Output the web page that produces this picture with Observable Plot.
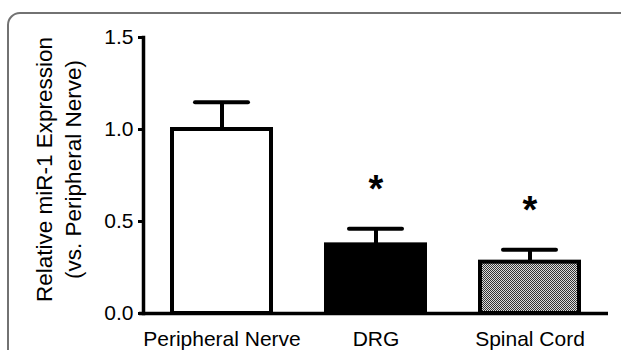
<!DOCTYPE html>
<html><head><meta charset="utf-8">
<script src="https://cdn.jsdelivr.net/npm/d3@7"></script>
<script src="https://cdn.jsdelivr.net/npm/@observablehq/plot@0.6"></script>
<style>
html,body{margin:0;padding:0;background:#fff;overflow:hidden;}
#wrap{position:relative;width:621px;height:350px;overflow:hidden;}
#border{position:absolute;left:7px;top:12px;width:700px;height:500px;border:2px solid #727272;border-radius:13px;box-sizing:border-box;}
#chart{position:absolute;left:0;top:0;}
</style></head><body>
<div id="wrap"><div id="border"></div><div id="chart"></div></div>
<script>
const categories = ["Peripheral Nerve", "DRG", "Spinal Cord"];
const means = [1.0, 0.373, 0.279];
const errors = [0.148, 0.087, 0.067];
const significance = ["", "*", "*"];
const fills = ["white", "black", "url(#checker)"];
const yTicks = [0, 0.5, 1.0, 1.5];
const yTitle = "Relative miR-1 Expression\n(vs. Peripheral Nerve)";

const data = categories.map((c, i) => ({
  category: c, mean: means[i], upper: means[i] + errors[i], sig: significance[i], fill: fills[i]
}));

const chart = Plot.plot({
  width: 621, height: 350,
  marginLeft: 143, marginRight: 13, marginTop: 37, marginBottom: 37,
  style: {fontFamily: "'Liberation Sans', Arial, sans-serif", background: "transparent", color: "black"},
  x: {domain: categories, paddingInner: 0.331, paddingOuter: 0.175, label: null},
  y: {domain: [0, 1.5], label: null},
  color: {type: "identity"},
  marks: [
    Plot.ruleX(data, {x: "category", y1: "mean", y2: "upper", stroke: "black", strokeWidth: 4}),
    Plot.tickY(data, {x: "category", y: "upper", stroke: "black", strokeWidth: 4, insetLeft: 25, insetRight: 25, strokeLinecap: "round"}),
    Plot.barY(data, {x: "category", y: "mean", fill: "fill", stroke: "black", strokeWidth: 4, insetLeft: 2, insetRight: 2}),
    Plot.text(data, {x: "category", y: "upper", text: "sig", fontSize: 38, fontWeight: "bold", dy: -39, fill: "black"}),
    Plot.axisY({ticks: yTicks, tickFormat: d => d.toFixed(1), tickSize: 5, tickPadding: 5, fontSize: 21, strokeWidth: 3, label: null}),
    Plot.axisX({tickSize: 0, tickPadding: 18, fontSize: 21, label: null}),
    Plot.frame({anchor: "left", stroke: "black", strokeWidth: 3.5}),
    Plot.ruleY([0], {stroke: "black", strokeWidth: 3.5, insetLeft: -4}),
    Plot.text([yTitle], {text: d => d, frameAnchor: "left", dx: -86, dy: -6, rotate: -90, fontSize: 22.5, lineHeight: 1.3, textAnchor: "middle", lineAnchor: "middle", fill: "black"})
  ]
});

d3.select(chart).insert("defs", ":first-child").html(
  '<pattern id="checker" width="2" height="2" patternUnits="userSpaceOnUse">' +
  '<rect width="2" height="2" fill="#dcdcdc"/><rect width="1" height="1" fill="#333"/>' +
  '<rect x="1" y="1" width="1" height="1" fill="#333"/></pattern>'
);
document.getElementById("chart").appendChild(chart);
</script>
</body></html>
